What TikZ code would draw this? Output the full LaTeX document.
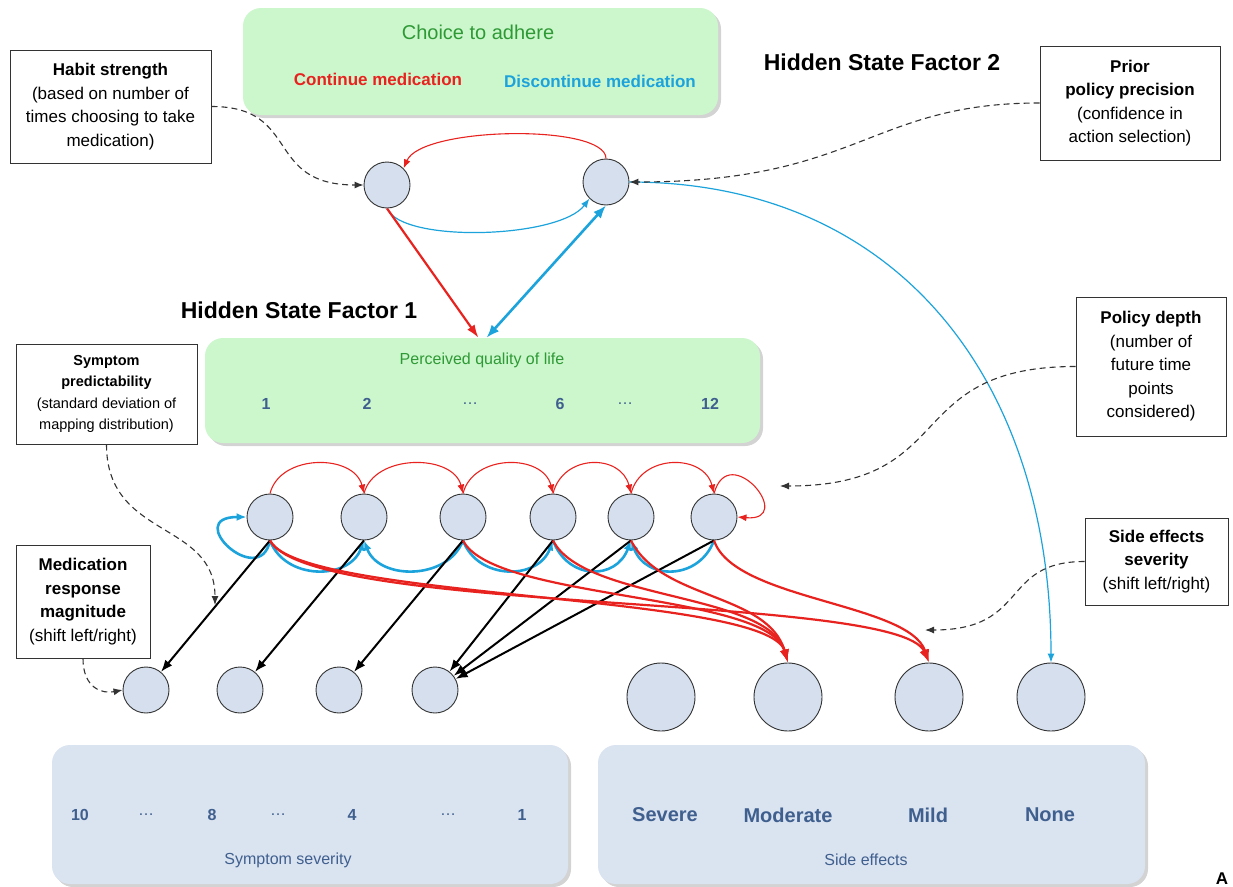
\documentclass[tikz,border=0pt]{standalone}
\usepackage{fontspec}
\setmainfont{Liberation Sans}
\usetikzlibrary{arrows.meta,shadows}

\definecolor{stateFill}{HTML}{D5DFEE}
\definecolor{choiceBg}{HTML}{CCF6CC}
\definecolor{choiceText}{HTML}{2E9A35}
\definecolor{contRed}{HTML}{E8231F}
\definecolor{discBlue}{HTML}{1CA3DC}
\definecolor{levelText}{HTML}{3F5F8E}
\definecolor{outcomeBg}{HTML}{DAE3F0}

\newcommand{\infofont}{\fontsize{17}{23.5}\selectfont}
\newcommand{\skipdots}{\textmd{\ldots}}

\begin{document}
\begin{tikzpicture}[x=1pt,y=-1pt,>={Latex[length=9pt,width=7pt]},
  state/.style={circle,draw=black!80,fill=stateFill,line width=0.9pt,minimum size=46pt,inner sep=0pt},
  outcome/.style={state,minimum size=68pt},
  infobox/.style={draw=black!80,fill=white,line width=1pt,align=center,inner sep=0pt,font=\infofont},
  panel/.style={rounded corners=18pt,draw=none,inner sep=0pt,drop shadow={shadow xshift=3pt,shadow yshift=-3pt,opacity=0.35}},
  cont/.style={draw=contRed,line width=1.1pt,->},
  contthick/.style={draw=contRed,line width=2.2pt,>={Latex[length=13pt,width=9pt]},->},
  disc/.style={draw=discBlue,line width=1.2pt,->},
  discthick/.style={draw=discBlue,line width=2.6pt,>={Latex[length=13pt,width=10pt]}},
  maps/.style={draw=black,line width=2pt,>={Latex[length=12pt,width=9pt]},->},
  param/.style={draw=black!80,line width=1.1pt,dash pattern=on 6pt off 4pt,->}]
\useasboundingbox (0,0) rectangle (1233,886);
\clip (0,0) rectangle (1233,886);

% Hidden state factor 2
\node[panel,fill=choiceBg,minimum width=475,minimum height=107] (choice) at (480.5,61.5) {};
\node[font=\fontsize{20}{24}\selectfont,text=choiceText] (choicetitle) at (478,32) {Choice to adhere};
\node[font=\bfseries\fontsize{17}{20}\selectfont,text=contRed] (conttext) at (378,79) {Continue medication};
\node[font=\bfseries\fontsize{17}{20}\selectfont,text=discBlue] (disctext) at (600,81) {Discontinue medication};
\node[font=\bfseries\fontsize{23}{26}\selectfont] (hsf2) at (882,62) {Hidden State Factor 2};

\node[state] (a1) at (387,185) {};
\node[state] (a2) at (606,182) {};

\node[infobox,minimum width=201,minimum height=113] (habit) at (110.5,106.5)
  {\textbf{Habit strength}\\(based on number of\\times choosing to take\\medication)};
\node[infobox,minimum width=180,minimum height=114] (prior) at (1130,103)
  {\textbf{Prior}\\\textbf{policy precision}\\(confidence in\\action selection)};

% Hidden state factor 1
\node[font=\bfseries\fontsize{23}{26}\selectfont] (hsf1) at (299,310) {Hidden State Factor 1};
\node[panel,fill=choiceBg,minimum width=555,minimum height=105] (qol) at (482.5,390.5) {};
\node[font=\fontsize{16}{20}\selectfont,text=choiceText] (qoltitle) at (482,360) {Perceived quality of life};
\foreach \x/\t/\i in {266/1/1,367/2/2,470/\skipdots/3,560/6/4,625/\skipdots/5,710/12/6}
  \node[font=\bfseries\fontsize{16}{20}\selectfont,text=levelText] (qoll\i) at (\x,404) {\t};

\foreach \x [count=\i] in {270,364,463,553,631,714}
  \node[state] (q\i) at (\x,517) {};

\node[infobox,minimum width=181,minimum height=100,font=\fontsize{14.5}{21.5}\selectfont] (pred) at (106.5,394)
  {\textbf{Symptom}\\\textbf{predictability}\\(standard deviation of\\mapping distribution)};
\node[infobox,minimum width=150,minimum height=139] (depth) at (1151,366.5)
  {\textbf{Policy depth}\\(number of\\future time\\points\\considered)};
\node[infobox,minimum width=143,minimum height=87] (sev) at (1156.5,561.5)
  {\textbf{Side effects}\\\textbf{severity}\\(shift left/right)};
\node[infobox,minimum width=134,minimum height=113] (med) at (83,601.5)
  {\textbf{Medication}\\\textbf{response}\\\textbf{magnitude}\\(shift left/right)};

% Outcomes
\foreach \x [count=\i] in {146,240,339,435}
  \node[state] (s\i) at (\x,690) {};
\foreach \x [count=\i] in {661,788,929,1051}
  \node[outcome] (e\i) at (\x,697) {};

\node[panel,fill=outcomeBg,minimum width=516,minimum height=139] (sympbox) at (310,814.5) {};
\node[panel,fill=outcomeBg,minimum width=547,minimum height=139] (sidebox) at (871.5,814.5) {};
\foreach \x/\t/\i in {80/10/1,146/\skipdots/2,212/8/3,278/\skipdots/4,352/4/5,448/\skipdots/6,522/1/7}
  \node[font=\bfseries\fontsize{16}{20}\selectfont,text=levelText] (sl\i) at (\x,815) {\t};
\node[font=\fontsize{16}{20}\selectfont,text=levelText] (sympname) at (288,860) {Symptom severity};
\foreach \x/\t/\i in {665/Severe/1,788/Moderate/2,928/Mild/3,1050/None/4}
  \node[font=\bfseries\fontsize{20}{24}\selectfont,text=levelText] (el\i) at (\x,815) {\t};
\node[font=\fontsize{16}{20}\selectfont,text=levelText] (sidename) at (866,860) {Side effects};
\node[font=\bfseries\fontsize{17}{20}\selectfont,anchor=base,inner sep=0pt] (panelA) at (1222,884) {A};

% Choice transitions
\draw[cont] (a2.north) .. controls +(0,-35) and +(18,-42) .. (a1.north east);
\draw[disc] (a1.south) .. controls +(15,35) and +(-30,40) .. (a2.south west);
\draw[contthick] (a1.south) -- ([xshift=-4pt]qol.north);
\draw[discthick,<->] ([xshift=4pt]qol.north) -- (a2.south);
\draw[disc] (a2.east) .. controls +(270,0) and +(0,-280) .. (e4.north);

% Quality of life transitions
\foreach \a/\b in {1/2,2/3,3/4,4/5,5/6}
  \draw[cont] (q\a.north) .. controls +(10,-40) and +(-10,-40) .. (q\b.north);
\draw[cont] (q6.north) .. controls +(15,-55) and +(60,5) .. (q6.east);
\draw[disc,line width=2.6pt,>={Latex[length=10pt,width=8pt]}] (q1.south) .. controls +(-10,50) and +(-65,0) .. (q1.west);
\foreach \a/\b in {1/2,3/4,4/5}
  \draw[disc,line width=2.6pt,>={Latex[length=10pt,width=8pt]}] (q\a.south) .. controls +(15,40) and +(-15,40) .. (q\b.south);
\foreach \a/\b in {3/2,6/5}
  \draw[disc,line width=2.6pt,>={Latex[length=10pt,width=8pt]}] (q\a.south) .. controls +(-15,40) and +(15,40) .. (q\b.south);

\foreach \a/\b in {1/1,2/2,3/3,4/4,5/4,6/4}
  \draw[maps] (q\a.south) -- (s\b);
\foreach \a/\b in {1/2,3/2,4/2,5/2}
  \draw[contthick] (q\a.south) .. controls +(30,60) and +(-20,-70) .. (e\b.north);
\draw[contthick] (q1.south) .. controls +(40,75) and +(-30,-70) .. (e3.north);
\draw[contthick] (q6.south) .. controls +(20,60) and +(-20,-60) .. (e3.north);

% Parameters
\coordinate (predend) at (215,605);
\coordinate (depthend) at (780,486);
\coordinate (sevend) at (925,630);
\draw[param] (habit.east) .. controls +(90,0) and +(-100,0) .. (a1.west);
\draw[param] (prior.west) .. controls +(-170,0) and +(230,0) .. (a2.east);
\draw[param] (pred.south) .. controls +(0,95) and +(0,-85) .. (predend);
\draw[param] (med.south) .. controls +(0,30) and +(-20,4) .. (s1.west);
\draw[param] (depth.west) .. controls +(-175,0) and +(180,0) .. (depthend);
\draw[param] (sev.west) .. controls +(-85,0) and +(105,0) .. (sevend);
\end{tikzpicture}
\end{document}
